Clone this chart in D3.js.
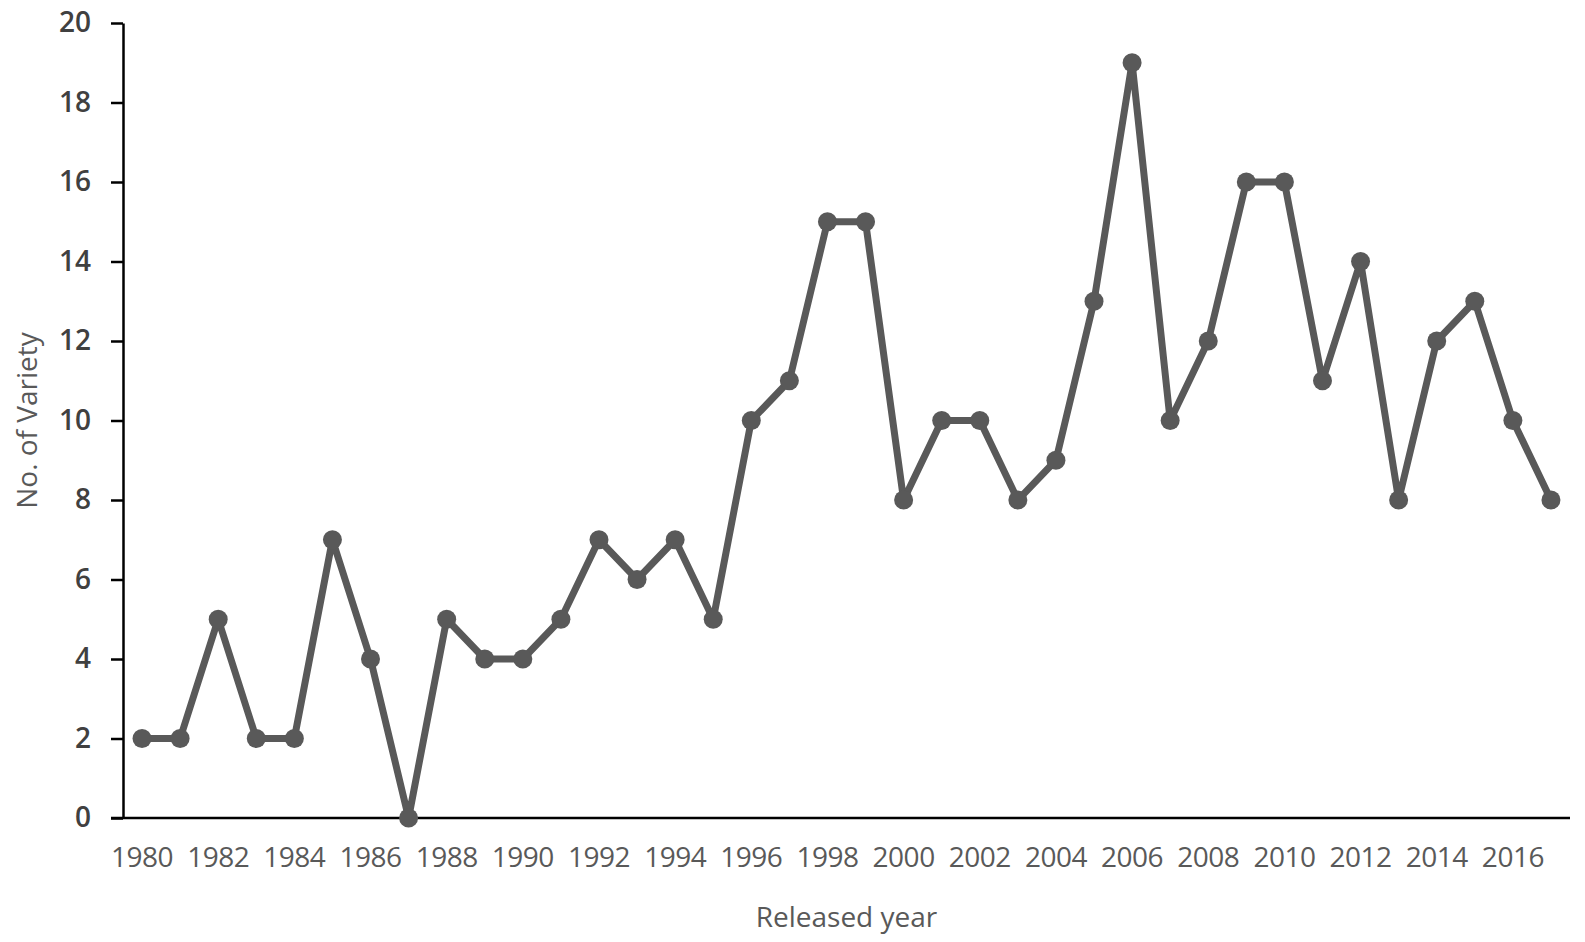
<!DOCTYPE html>
<html>
<head>
<meta charset="utf-8">
<script src="https://cdn.jsdelivr.net/npm/d3@7.9.0/dist/d3.min.js"></script>
<style>
  body { margin: 0; background: #fff; }
  svg { display: block; font-family: "Open Sans", sans-serif; }
</style>
</head>
<body>
<svg width="1585" height="942"></svg>
<script>
// released year vs. number of varieties
const years = d3.range(1980, 2018);
const counts = [2, 2, 5, 2, 2, 7, 4, 0, 5, 4, 4, 5, 7, 6, 7, 5, 10, 11, 15, 15,
                8, 10, 10, 8, 9, 13, 19, 10, 12, 16, 16, 11, 14, 8, 12, 13, 10, 8];
const yTicks = [0, 2, 4, 6, 8, 10, 12, 14, 16, 18, 20];

const data = years.map((yr, i) => ({ year: yr, value: counts[i] }));

const svg = d3.select('svg');
const plotLeft = 123, plotRight = 1570, plotTop = 23, plotBottom = 818;

let x = d3.scaleBand().domain(years).range([plotLeft, plotRight]).padding(0);
let y = d3.scaleLinear().domain([0, 20]).range([plotBottom, plotTop]);
const cx = (d) => x(d.year) + x.bandwidth() / 2;

// y axis
let yAxis = svg.append('g')
    .attr('transform', `translate(${plotLeft},0)`)
    .call(d3.axisLeft(y).tickValues(yTicks).tickSize(12).tickPadding(20).tickSizeOuter(0));
yAxis.select('.domain').attr('stroke', '#000').attr('stroke-width', 2.5);
yAxis.selectAll('.tick line').attr('stroke', '#000').attr('stroke-width', 2.5);
yAxis.selectAll('.tick text')
    .attr('fill', '#404040')
    .attr('font-size', 28)
    .attr('font-weight', 600)
    .attr('font-family', '"Open Sans", sans-serif');

// x axis
let xAxis = svg.append('g')
    .attr('transform', `translate(0,${plotBottom})`)
    .call(d3.axisBottom(x).tickValues(years.filter((yr) => yr % 2 === 0)).tickSize(0).tickPadding(29).tickSizeOuter(0));
xAxis.select('.domain').remove();
xAxis.append('line')
    .attr('x1', plotLeft - 12).attr('x2', plotRight)
    .attr('stroke', '#000').attr('stroke-width', 2.5);
xAxis.selectAll('.tick text')
    .attr('fill', '#595959')
    .attr('font-size', 28)
    .attr('letter-spacing', -0.5)
    .attr('font-family', '"Open Sans", sans-serif');

// line + markers
let line = d3.line().x(cx).y((d) => y(d.value));
svg.append('path')
    .datum(data)
    .attr('d', line)
    .attr('fill', 'none')
    .attr('stroke', '#595959')
    .attr('stroke-width', 7)
    .attr('stroke-linejoin', 'round');

svg.append('g')
    .selectAll('circle')
    .data(data)
    .join('circle')
    .attr('cx', cx)
    .attr('cy', (d) => y(d.value))
    .attr('r', 9.5)
    .attr('fill', '#595959');

// axis titles
svg.append('text')
    .attr('x', (plotLeft + plotRight) / 2)
    .attr('y', 927)
    .attr('text-anchor', 'middle')
    .attr('fill', '#595959')
    .attr('font-size', 28)
    .text('Released year');

svg.append('text')
    .attr('transform', `translate(37,${(plotTop + plotBottom) / 2}) rotate(-90)`)
    .attr('text-anchor', 'middle')
    .attr('fill', '#595959')
    .attr('font-size', 28)
    .text('No. of Variety');
</script>
</body>
</html>
